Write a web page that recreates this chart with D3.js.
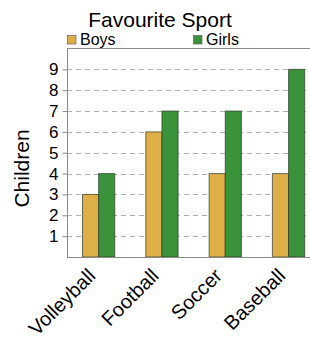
<!DOCTYPE html>
<html><head><meta charset="utf-8">
<script src="https://cdn.jsdelivr.net/npm/d3@7"></script>
<style>body{margin:0;background:#fff;overflow:hidden}svg{display:block}text{font-family:"Liberation Sans",Arial,sans-serif}</style>
</head><body>
<svg id="c" width="330" height="341"></svg>
<script>
const categories = ["Volleyball", "Football", "Soccer", "Baseball"];
const seriesNames = ["Boys", "Girls"];
const boys = [3, 6, 4, 4];
const girls = [4, 7, 7, 9];
const yTicks = [1, 2, 3, 4, 5, 6, 7, 8, 9];
const colors = ["#deae47", "#3a923a"];

const svg = d3.select("#c");
const pLeft = 67, pTop = 48.5, pBottom = 257, pRight = 67 + 4 * 63.3;

const x0 = d3.scaleBand().domain(categories).range([pLeft, pRight]).paddingInner(0.49).paddingOuter(0.245);
const x1 = d3.scaleBand().domain(seriesNames).range([0, x0.bandwidth()]);
const y = d3.scaleLinear().domain([0, 10]).range([pBottom, pTop]);

// grid
svg.append("g").selectAll("line").data(yTicks).join("line")
  .attr("x1", pLeft).attr("x2", pRight)
  .attr("y1", d => Math.round(y(d)) + 0.5).attr("y2", d => Math.round(y(d)) + 0.5)
  .attr("stroke", "#b0b0b0").attr("stroke-dasharray", "5,4").attr("stroke-width", 1);

// bars
const data = categories.map((c, i) => ({c, vals: [boys[i], girls[i]]}));
const g = svg.append("g").selectAll("g").data(data).join("g")
  .attr("transform", d => `translate(${x0(d.c)},0)`);
g.selectAll("rect").data(d => d.vals.map((v, j) => ({s: seriesNames[j], v, j}))).join("rect")
  .attr("x", d => x1(d.s)).attr("width", x1.bandwidth())
  .attr("y", d => y(d.v)).attr("height", d => y(0) - y(d.v))
  .attr("fill", d => colors[d.j]).attr("stroke", "#2e3b2a").attr("stroke-opacity", 0.7).attr("stroke-width", 1);

// axes frame
svg.append("line").attr("x1", pLeft + 0.5).attr("x2", pLeft + 0.5).attr("y1", pTop).attr("y2", pBottom).attr("stroke", "#8a8a8a");
svg.append("line").attr("x1", pLeft).attr("x2", pRight).attr("y1", pBottom + 0.5).attr("y2", pBottom + 0.5).attr("stroke", "#8a8a8a");
svg.append("line").attr("x1", pLeft).attr("x2", pRight).attr("y1", pTop).attr("y2", pTop).attr("stroke", "#8a8a8a");

// y axis labels via d3 axis
const ya = svg.append("g").attr("transform", `translate(${pLeft + 0.5},0)`)
  .call(d3.axisLeft(y).tickValues(yTicks).tickSize(5).tickPadding(4).tickFormat(d3.format("d")));
ya.select(".domain").remove();
ya.selectAll(".tick line").attr("stroke", "#8a8a8a");
ya.selectAll("text").attr("font-size", 17).attr("fill", "#000").attr("font-family", "Liberation Sans, Arial, sans-serif");

// x labels
svg.append("g").selectAll("text").data(categories).join("text")
  .attr("transform", d => `translate(${x0(d) + x0.bandwidth() / 2 - 2},277) rotate(-45)`)
  .attr("text-anchor", "end")
  .attr("font-size", 20).text(d => d);

// y title
svg.append("text").attr("transform", "translate(29,168.5) rotate(-90)")
  .attr("text-anchor", "middle").attr("font-size", 21).text("Children");

// title
svg.append("text").attr("x", 160).attr("y", 27).attr("text-anchor", "middle")
  .attr("font-size", 21).text("Favourite Sport");

// legend
const legX = [67, 193];
const lg = svg.append("g").selectAll("g").data(seriesNames).join("g")
  .attr("transform", (d, i) => `translate(${legX[i]},35)`);
lg.append("rect").attr("x", 0.5).attr("y", 0.5).attr("width", 8.5).attr("height", 8.5).attr("fill", (d, i) => colors[i])
  .attr("stroke", "#666").attr("stroke-width", 0.7);
lg.append("text").attr("x", 13).attr("y", 9.5).attr("font-size", 16).text(d => d);
</script>
</body></html>
